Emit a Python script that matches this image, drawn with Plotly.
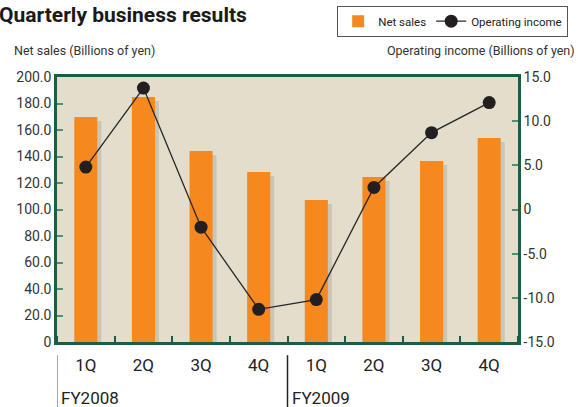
import plotly.graph_objects as go

quarters = ["1Q", "2Q", "3Q", "4Q", "1Q", "2Q", "3Q", "4Q"]
fiscal_years = ["FY2008", "FY2009"]
net_sales = [169.8, 184.9, 144.2, 128.3, 107.2, 124.5, 136.6, 154.0]
operating_income = [4.8, 13.75, -2.0, -11.3, -10.2, 2.5, 8.7, 12.1]
left_ticks = [0, 20, 40, 60, 80, 100, 120, 140, 160, 180, 200]
left_ticktext = ["0", "20.0", "40.0", "60.0", "80.0", "100.0", "120.0", "140.0", "160.0", "180.0", "200.0"]
right_ticks = [-15, -10, -5, 0, 5, 10, 15]
right_ticktext = ["-15.0", "-10.0", "-5.0", "0", "5.0", "10.0", "15.0"]

FONT = "Roboto, Arial, sans-serif"
GREEN = "#1b5e45"
TICKGREEN = "#4f8f74"
ORANGE = "#f5891f"
SHADOW = "#cbc5b6"
BG = "#e3ddcb"

x = list(range(len(quarters)))
shadow_vals = [v - 3 for v in net_sales]

fig = go.Figure()
fig.add_trace(go.Bar(x=x, y=shadow_vals, marker=dict(color=SHADOW, line=dict(width=0)),
                     width=0.4, offset=-0.13, showlegend=False, hoverinfo="skip"))
fig.add_trace(go.Bar(x=x, y=net_sales, name="Net sales", marker=dict(color=ORANGE, line=dict(width=0)),
                     width=0.4, offset=-0.2))
fig.add_trace(go.Scatter(x=x, y=operating_income, name="Operating income", yaxis="y2",
                         mode="lines+markers", line=dict(color="#2a2526", width=1.3),
                         marker=dict(color="#231f20", size=13)))

fig.update_layout(
    width=578, height=407,
    margin=dict(l=57, r=60, t=77, b=65),
    paper_bgcolor="white", plot_bgcolor=BG,
    barmode="overlay",
    font=dict(family=FONT, size=13, color="#333333"),
    xaxis=dict(range=[-0.5, 7.5], tickvals=x, ticktext=quarters, ticks="",
               showgrid=False, zeroline=False, showline=True, mirror=True,
               linecolor=GREEN, linewidth=2.5, tickfont=dict(size=17, color="#222222"),
               ticklabelstandoff=6,
               minor=dict(tick0=0.5, dtick=1, ticks="inside", ticklen=6, tickcolor=GREEN, tickwidth=1.5, showgrid=False)),
    yaxis=dict(range=[0, 200], tickvals=left_ticks, ticktext=left_ticktext, ticks="inside",
               ticklen=6, tickcolor=TICKGREEN, tickwidth=2, showgrid=False, zeroline=False,
               showline=True, mirror=True, linecolor=GREEN, linewidth=2.5,
               tickfont=dict(size=14, color="#333333")),
    yaxis2=dict(range=[-15, 15], overlaying="y", side="right", tickvals=right_ticks,
                ticktext=right_ticktext, ticks="inside", ticklen=6, tickcolor=TICKGREEN, tickwidth=2,
                showgrid=False, zeroline=False, showline=True, linecolor=GREEN, linewidth=2.5,
                tickfont=dict(size=14, color="#333333")),
    legend=dict(orientation="h", xref="container", yref="container",
                x=0.983, xanchor="right", y=0.986, yanchor="top",
                bordercolor="#555555", borderwidth=1, bgcolor="white",
                font=dict(size=11.5, color="#222222"), itemwidth=30, tracegroupgap=0),
    showlegend=True,
)

fig.add_annotation(text="<b>Quarterly business results</b>", xref="paper", yref="paper",
                   x=-0.131, y=1.235, xanchor="left", yanchor="middle", showarrow=False,
                   font=dict(size=21, color="#1a1a1a", family=FONT))
fig.add_annotation(text="Net sales (Billions of yen)", xref="paper", yref="paper",
                   x=-0.098, y=1.1, xanchor="left", yanchor="middle", showarrow=False,
                   font=dict(size=12.5, color="#333333"))
fig.add_annotation(text="Operating income (Billions of yen)", xref="paper", yref="paper",
                   x=1.128, y=1.1, xanchor="right", yanchor="middle", showarrow=False,
                   font=dict(size=12.5, color="#333333"))

for i, fy in enumerate(fiscal_years):
    xpos = -0.5 + 4 * i
    fig.add_shape(type="line", xref="x", yref="paper", x0=xpos, x1=xpos, y0=-0.05, y1=-0.25,
                  line=dict(color="#888888" if i == 0 else "#222222", width=1.5))
    fig.add_annotation(text=fy, xref="x", yref="paper", x=xpos, y=-0.212, xanchor="left",
                       yanchor="middle", xshift=2, showarrow=False,
                       font=dict(size=17, color="#222222"))

fig.write_html("out.html")
